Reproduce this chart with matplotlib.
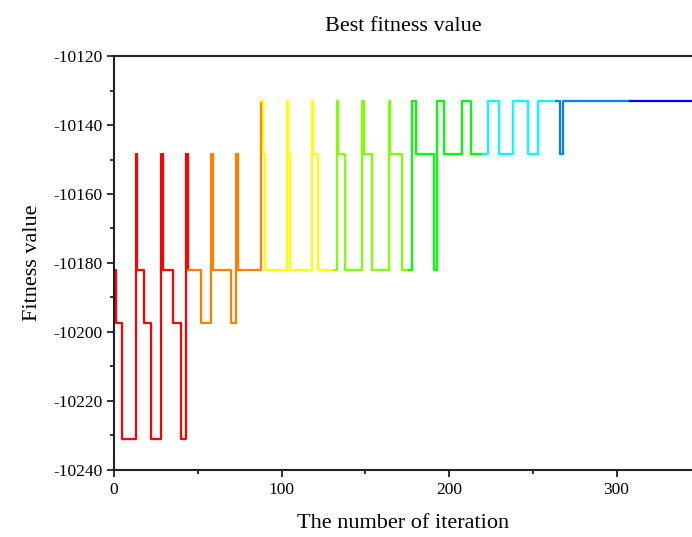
import numpy as np
import matplotlib.pyplot as plt
from matplotlib.ticker import MultipleLocator

plt.rcParams['font.family'] = ['Liberation Serif', 'DejaVu Serif']
plt.rcParams['axes.unicode_minus'] = False

# fitness levels seen in the chart
LEVEL_A = -10133
LEVEL_B = -10148.5
LEVEL_C = -10182
LEVEL_D = -10197.5
LEVEL_E = -10231

# iteration where the best fitness changes, and the value from there on
change_iter = [0, 1, 5, 13, 14, 18, 22, 28, 29, 35, 40, 43, 44, 52, 58, 59, 70, 73, 74,
               88, 89, 90, 103, 104, 105, 118, 119, 122, 133, 134, 138, 148, 149, 154,
               164, 165, 172, 178, 180, 191, 193, 197, 208, 213, 223, 230, 238, 247,
               253, 266, 268]
change_val = [LEVEL_C, LEVEL_D, LEVEL_E, LEVEL_B, LEVEL_C, LEVEL_D, LEVEL_E, LEVEL_B, LEVEL_C,
              LEVEL_D, LEVEL_E, LEVEL_B, LEVEL_C, LEVEL_D, LEVEL_B, LEVEL_C, LEVEL_D, LEVEL_B,
              LEVEL_C,
              LEVEL_A, LEVEL_B, LEVEL_C, LEVEL_A, LEVEL_B, LEVEL_C, LEVEL_A, LEVEL_B, LEVEL_C,
              LEVEL_A, LEVEL_B, LEVEL_C, LEVEL_A, LEVEL_B, LEVEL_C,
              LEVEL_A, LEVEL_B, LEVEL_C, LEVEL_A, LEVEL_B, LEVEL_C, LEVEL_A, LEVEL_B, LEVEL_A,
              LEVEL_B, LEVEL_A, LEVEL_B, LEVEL_A, LEVEL_B,
              LEVEL_A, LEVEL_B, LEVEL_A]
last_iter = 346

# colour bands along the run
band_start = [0, 44, 88, 132, 176, 220, 264, 308]
band_colors = ['#ff0000', '#ff8000', '#ffff00', '#80ff00', '#00ff00', '#00ffff', '#0080ff', '#0000ff']

xticks = [0, 100, 200, 300]
yticks = [-10240, -10220, -10200, -10180, -10160, -10140, -10120]

# expand to one value per iteration
lengths = np.diff(change_iter + [last_iter])
it = np.arange(last_iter)
fit = np.repeat(change_val, lengths)

fig = plt.figure(figsize=(6.92, 5.37), dpi=100)
ax = fig.add_axes([0.1647, 0.1248, 0.8353, 0.7709])

bounds = band_start + [last_iter]
for k in range(len(band_colors)):
    s, e = bounds[k], min(bounds[k + 1] + 1, last_iter)
    ax.plot(it[s:e], fit[s:e], color=band_colors[k], lw=1.6, drawstyle='steps-post')

ax.set_xlim(0, 345)
ax.set_ylim(-10240, -10120)
ax.set_xticks(xticks)
ax.set_xticklabels([str(v) for v in xticks])
ax.set_yticks(yticks)
ax.set_yticklabels([str(v) for v in yticks])
ax.xaxis.set_minor_locator(MultipleLocator(50))
ax.yaxis.set_minor_locator(MultipleLocator(10))
ax.tick_params(which='both', direction='out', width=1.3, labelsize=12.5, colors='#222222')
ax.tick_params(which='major', length=5)
ax.tick_params(which='minor', length=3)
ax.tick_params(axis='both', labelcolor='black')

for sp in ['left', 'bottom', 'top']:
    ax.spines[sp].set_linewidth(1.5)
    ax.spines[sp].set_color('#222222')
ax.spines['right'].set_visible(False)

ax.set_title('Best fitness value', fontsize=16, pad=18)
ax.set_xlabel('The number of iteration', fontsize=16, labelpad=12)
ax.set_ylabel('Fitness value', fontsize=16, labelpad=8)

fig.savefig('out.png', dpi=100)
